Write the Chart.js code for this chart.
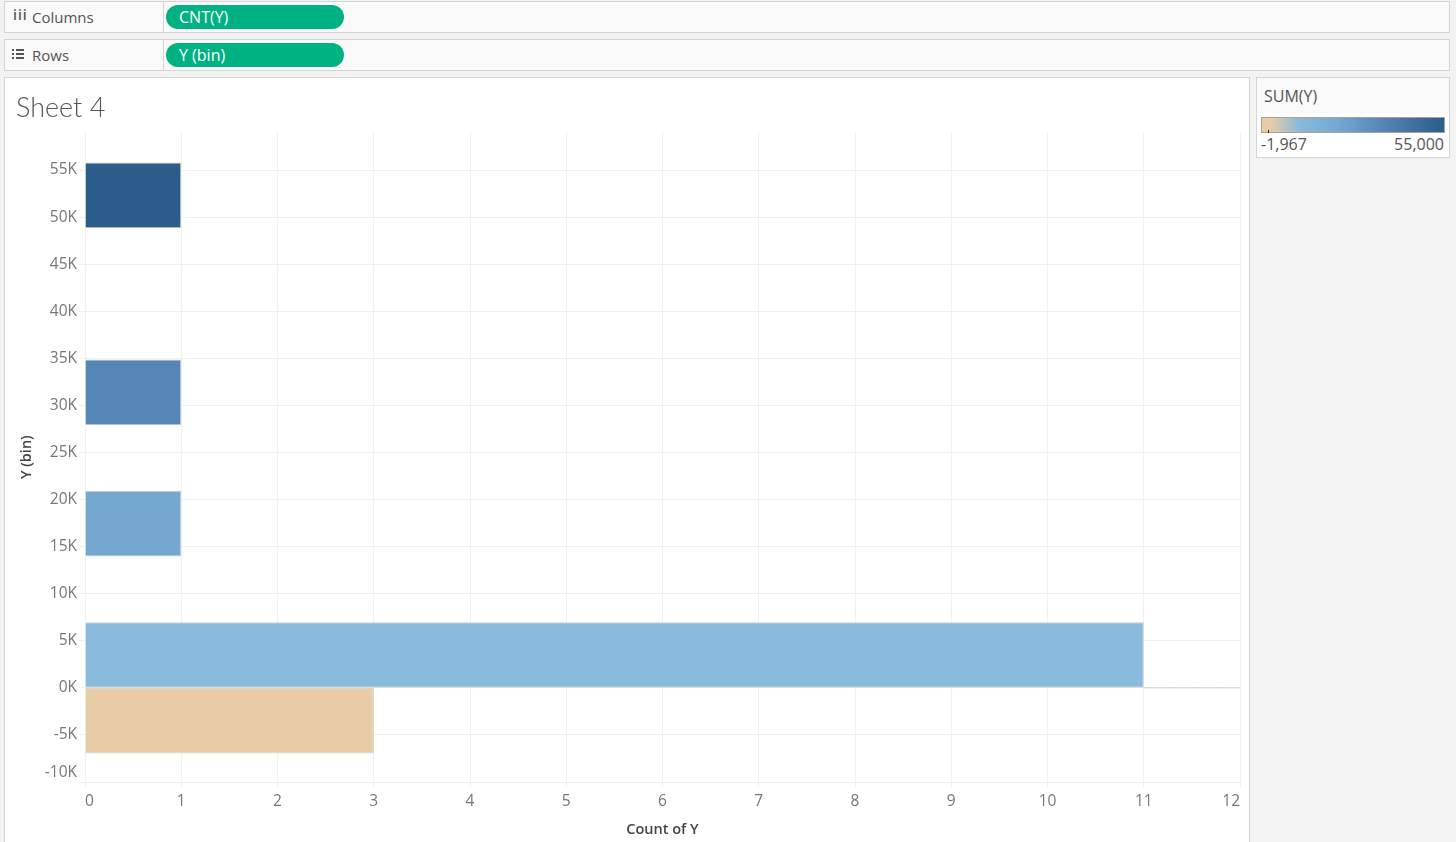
<!DOCTYPE html>
<html>
<head>
<meta charset="utf-8">
<title>Sheet 4</title>
<script src="https://cdn.jsdelivr.net/npm/chart.js@4"></script>
<style>
	html, body { margin: 0; height: 100%; overflow: hidden; background: #f3f3f3; }
	body { font-family: "Open Sans", sans-serif; font-size: 15px; color: #555; }
	.shelf { position: absolute; left: 4px; width: 1444px; height: 30px; background: #f9f9f9; border: 1px solid #d4d4d4; }
	.shelf .name { position: absolute; left: 27px; top: 5px; line-height: 20px; }
	.shelf .icon { position: absolute; left: 8px; top: 3px; line-height: 20px; font-size: 14px; font-weight: 600; letter-spacing: 1px; color: #555; }
	.shelf .split { position: absolute; left: 158px; top: 0; bottom: 0; width: 1px; background: #d4d4d4; }
	.pill { position: absolute; left: 161px; top: 3px; width: 165px; padding-left: 13px; height: 24px; line-height: 25px; border-radius: 12px; background: #00b282; color: #fff; font-size: 16px; }
	#panel { position: absolute; left: 4px; top: 77px; width: 1246px; height: 765px; background: #fff; border: 1px solid #d4d4d4; border-bottom: 0; box-sizing: border-box; }
	#chart { position: absolute; left: 0; top: 0; }
	#legend { position: absolute; left: 1256px; top: 77px; width: 192px; height: 79px; background: #fff; border: 1px solid #d4d4d4; font-size: 16px; }
	#legend .head { height: 35px; background: #f9f9f9; padding: 8px 0 0 7px; box-sizing: border-box; line-height: 20px; }
	#legend .ramp { position: absolute; left: 4px; top: 39px; width: 182px; height: 14px; border: 1px solid #a9a194;
		background: linear-gradient(to right, #e7cca6 0%, #e7cca6 5%, #8abbdc 20%, #74a8d0 42%, #5586b6 66%, #2b5c8a 100%); }
	#legend .mark { position: absolute; left: 11px; top: 52px; width: 1px; height: 3px; background: #222; }
	#legend .lo { position: absolute; left: 4px; top: 56px; line-height: 20px; }
	#legend .hi { position: absolute; right: 5px; top: 56px; line-height: 20px; }
</style>
</head>
<body>
<div class="shelf" style="top:1px"><span class="icon">iii</span><span class="name">Columns</span><span class="split"></span><span class="pill">CNT(Y)</span></div>
<div class="shelf" style="top:39px">
	<svg style="position:absolute;left:7px;top:8px" width="13" height="12"><g fill="#555"><rect x="0" y="1" width="2" height="2"/><rect x="4" y="1" width="8" height="2"/><rect x="0" y="5" width="2" height="2"/><rect x="4" y="5" width="8" height="2"/><rect x="0" y="9" width="2" height="2"/><rect x="4" y="9" width="8" height="2"/></g></svg>
	<span class="name">Rows</span><span class="split"></span><span class="pill">Y (bin)</span>
</div>
<div id="panel"><canvas id="chart" width="1244" height="765"></canvas></div>
<div id="legend">
	<div class="head">SUM(Y)</div>
	<div class="ramp"></div>
	<div class="mark"></div>
	<div class="lo">-1,967</div>
	<div class="hi">55,000</div>
</div>
<script>
const binSize = 6975;
const binStarts = [-6975, 0, 13950, 27900, 48825];
const binCounts = [3, 11, 1, 1, 1];
const binColors = ["#e7cca6", "#8abbdc", "#74a8d0", "#5586b6", "#2b5c8a"];
const xTickValues = [0, 1, 2, 3, 4, 5, 6, 7, 8, 9, 10, 11, 12];
const yTickValues = [-10000, -5000, 0, 5000, 10000, 15000, 20000, 25000, 30000, 35000, 40000, 45000, 50000, 55000];
const yTickStep = 5000;
const zeroLineX = [11, 12];

const gridColor = "#f0f0f0";
const tickFont = { family: "Open Sans", size: 15.5 };
const axisTitleFont = { family: "Open Sans", size: 14.5, weight: "600" };

const bars = binStarts.map((start, i) => ({ x: binCounts[i], y: start + binSize / 2 }));

function yTickLabel(value) {
	const label = value / 1000 + "K";
	// the bottom label sits above the axis end, same as the original
	return value === -10000 ? [label, ""] : label;
}

new Chart(document.getElementById("chart"), {
	data: {
		datasets: [
			{
				type: "bar",
				label: "Count of Y",
				data: bars,
				backgroundColor: binColors,
				borderColor: "#cccccc",
				borderWidth: 1,
				// chart.js sizes bars from the tick spacing here, so scale it up to one bin
				barPercentage: binSize / yTickStep,
				categoryPercentage: 1,
			},
			{
				type: "line",
				label: "Zero",
				data: zeroLineX.map((x) => ({ x: x, y: 0 })),
				borderColor: "#bbbbbb",
				borderWidth: 1,
				borderDash: [2, 1],
				pointRadius: 0,
			},
		],
	},
	options: {
		indexAxis: "y",
		responsive: false,
		animation: false,
		layout: { padding: { left: 11, right: 9, top: 0, bottom: 0 } },
		plugins: {
			legend: { display: false },
			tooltip: { enabled: false },
			title: {
				display: true,
				text: "Sheet 4",
				align: "start",
				color: "#555555",
				font: { family: "Lato", size: 27, weight: "300" },
				padding: { top: 14, bottom: 8 },
			},
		},
		scales: {
			x: {
				type: "linear",
				min: 0,
				max: 12,
				afterFit: (scale) => { scale.height = 61; },
				afterBuildTicks: (scale) => {
					scale.ticks = xTickValues.map((v) => ({ value: v }));
				},
				grid: { color: gridColor, tickColor: gridColor, tickLength: 5 },
				border: { display: false },
				ticks: { align: "inner", color: "#777777", font: tickFont, maxRotation: 0, autoSkip: false, padding: 5 },
				title: { display: true, text: "Count of Y", color: "#444444", font: axisTitleFont, padding: { top: 0, bottom: 4 } },
			},
			y: {
				type: "linear",
				offset: false,
				min: -10000,
				max: 59000,
				afterFit: (scale) => { scale.width = 69; },
				afterBuildTicks: (scale) => {
					scale.ticks = yTickValues.map((v) => ({ value: v }));
				},
				grid: { offset: false, color: gridColor, tickColor: gridColor, tickLength: 6 },
				border: { display: false },
				ticks: { color: "#777777", font: tickFont, autoSkip: false, padding: 2, callback: yTickLabel },
				title: { display: true, text: "Y (bin)", color: "#444444", font: axisTitleFont, padding: { top: 2, bottom: 0 } },
			},
		},
	},
});
</script>
</body>
</html>
